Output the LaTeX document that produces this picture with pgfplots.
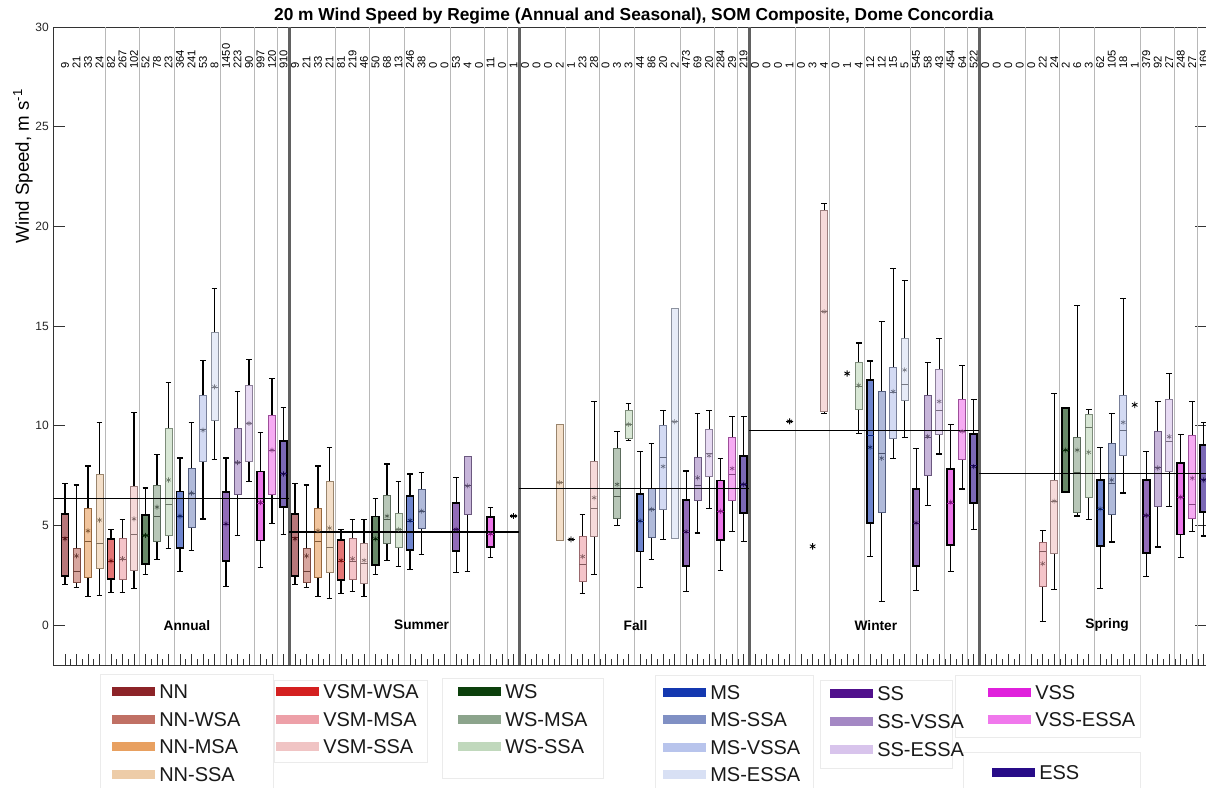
\documentclass[border=0pt]{standalone}
\usepackage{fontspec}
\setmainfont{Liberation Sans}
\usepackage{pgfplots}
\pgfplotsset{compat=1.18}
\usepgfplotslibrary{statistics}

\definecolor{cNN}{RGB}{140,35,40}
\definecolor{cNNWSA}{RGB}{192,112,100}
\definecolor{cNNMSA}{RGB}{232,160,96}
\definecolor{cNNSSA}{RGB}{237,204,168}
\definecolor{cVSMWSA}{RGB}{212,32,32}
\definecolor{cVSMMSA}{RGB}{237,160,168}
\definecolor{cVSMSSA}{RGB}{240,196,196}
\definecolor{cWS}{RGB}{12,64,12}
\definecolor{cWSMSA}{RGB}{140,164,140}
\definecolor{cWSSSA}{RGB}{192,216,188}
\definecolor{cMS}{RGB}{20,56,176}
\definecolor{cMSSSA}{RGB}{128,144,196}
\definecolor{cMSVSSA}{RGB}{184,196,236}
\definecolor{cMSESSA}{RGB}{216,224,244}
\definecolor{cSS}{RGB}{80,16,140}
\definecolor{cSSVSSA}{RGB}{164,136,196}
\definecolor{cSSESSA}{RGB}{216,196,236}
\definecolor{cVSS}{RGB}{224,32,220}
\definecolor{cVSSESSA}{RGB}{240,120,236}
\definecolor{cESS}{RGB}{40,12,136}

\pgfplotsset{
  pure/.style={draw=black, line width=1.3pt, fill=#1!62!white,
    boxplot/every whisker/.style={draw=black, line width=0.85pt},
    boxplot/every median/.style={draw=#1!75!black, line width=0.5pt}},
  mixed/.style={draw=#1!65!black, line width=0.5pt, fill=#1!62!white,
    boxplot/every whisker/.style={draw=black, line width=0.85pt},
    boxplot/every median/.style={draw=#1!55!black, line width=0.5pt}},
  single/.style={draw=black, line width=1pt, fill=none,
    boxplot/every whisker/.style={draw=black, line width=0.85pt},
    boxplot/every median/.style={draw=black, line width=1pt}},
}

% position, lower whisker, q1, median, q3, upper whisker, mean, box type, colour
\newcommand{\bx}[9]{%
  \addplot[#8=#9, boxplot prepared={draw position=#1, lower whisker=#2, lower quartile=#3, median=#4, upper quartile=#5, upper whisker=#6}] coordinates {};
  \addplot[only marks, mark=asterisk, mark size=1.9pt, line width=0.45pt, color=#9!55!black] coordinates {(#1,#7)};}
% single observation: position, value
\newcommand{\sx}[2]{%
  \addplot[single, boxplot prepared={draw position=#1, lower whisker=#2, lower quartile=#2, median=#2, upper quartile=#2, upper whisker=#2}] coordinates {};
  \addplot[only marks, mark=asterisk, mark size=2.2pt, line width=0.6pt, black] coordinates {(#1,#2)};}
\newcommand{\legitem}[4]{\fill[#3] (#1,#2-4.5) rectangle ++(43,9); \node[anchor=west, inner sep=0pt, font=\fontsize{15}{17}\selectfont, text=black!90] at (#1+47,#2) {#4};}

\begin{document}
\begin{tikzpicture}
\begin{axis}[
  at={(0pt,0pt)}, anchor=south west,
  scale only axis, width=864.375pt, height=478.5pt,
  xmin=0, xmax=100.2, ymin=-2, ymax=30,
  boxplot/draw direction=y,
  boxplot/box extend=0.6,
  boxplot/whisker extend=0.5,
  xtick={1,...,100}, xticklabels={},
  minor x tick num=1,
  xtick pos=left, ytick pos=both,
  ytick={0,5,10,15,20,25,30},
  tick align=inside,
  major tick length=8.6pt, minor tick length=4.3pt,
  tick style={black!80, line width=0.5pt},
  axis line style={black!80, line width=0.6pt},
  yticklabel style={font=\fontsize{9}{10}\selectfont, text=black!85},
  /pgf/number format/assume math mode=true,
  major grid style={black!28, line width=0.8pt},
  extra x ticks={4.5,7.5,10.5,14.5,17.5,19.5,24.5,27.5,30.5,34.5,37.5,39.5,44.5,47.5,50.5,54.5,57.5,59.5,64.5,67.5,70.5,74.5,77.5,79.5,84.5,87.5,90.5,94.5,97.5,99.5},
  extra x tick labels={},
  extra x tick style={grid=major, major tick length=0pt},
  ylabel={Wind Speed, m s\textsuperscript{-1}},
  every axis y label/.style={at={(-0.0265,0.782)}, rotate=90, anchor=center, font=\fontsize{14}{16}\selectfont},
  title={20 m Wind Speed by Regime (Annual and Seasonal), SOM Composite, Dome Concordia},
  every axis title/.style={at={(0.5035,1)}, anchor=base, yshift=4.7pt, font=\bfseries\fontsize{13}{15}\selectfont},
]
% season separators
\addplot[line width=2.3pt, black!62] coordinates {(20.5,-2) (20.5,30)};
\addplot[line width=2.3pt, black!62] coordinates {(40.5,-2) (40.5,30)};
\addplot[line width=2.3pt, black!62] coordinates {(60.5,-2) (60.5,30)};
\addplot[line width=2.3pt, black!62] coordinates {(80.5,-2) (80.5,30)};

% ---------- Annual ----------
\bx{1}{2.03}{2.47}{4.40}{5.58}{7.12}{4.33}{pure}{cNN}
\bx{2}{1.87}{2.17}{2.70}{3.83}{7.03}{3.47}{mixed}{cNNWSA}
\bx{3}{1.45}{2.42}{4.22}{5.85}{7.98}{4.73}{mixed}{cNNMSA}
\bx{4}{1.50}{2.83}{4.12}{7.58}{10.17}{5.27}{mixed}{cNNSSA}
\bx{5}{1.63}{2.32}{3.20}{4.32}{4.80}{3.22}{pure}{cVSMWSA}
\bx{6}{1.63}{2.28}{3.30}{4.33}{5.28}{3.33}{mixed}{cVSMMSA}
\bx{7}{1.82}{2.77}{4.57}{6.98}{10.68}{5.33}{mixed}{cVSMSSA}
\bx{8}{2.53}{3.07}{4.50}{5.53}{6.88}{4.50}{pure}{cWS}
\bx{9}{3.27}{4.20}{5.47}{7.02}{8.55}{5.92}{mixed}{cWSMSA}
\bx{10}{3.83}{4.50}{6.08}{9.88}{12.15}{7.28}{mixed}{cWSSSA}
\bx{11}{2.67}{3.87}{5.45}{6.70}{8.38}{5.47}{pure}{cMS}
\bx{12}{3.75}{4.92}{6.60}{7.85}{10.17}{6.62}{mixed}{cMSSSA}
\bx{13}{5.32}{8.22}{9.80}{11.53}{13.28}{9.78}{mixed}{cMSVSSA}
\bx{14}{8.30}{10.25}{11.95}{14.70}{16.90}{11.95}{mixed}{cMSESSA}
\bx{15}{1.95}{3.20}{5.05}{6.68}{8.38}{5.08}{pure}{cSS}
\bx{16}{4.48}{6.57}{8.15}{9.88}{11.72}{8.15}{mixed}{cSSVSSA}
\bx{17}{7.20}{8.23}{10.10}{12.03}{13.32}{10.12}{mixed}{cSSESSA}
\bx{18}{2.90}{4.25}{6.10}{7.70}{9.65}{6.15}{pure}{cVSS}
\bx{19}{5.10}{6.58}{8.75}{10.53}{12.38}{8.78}{mixed}{cVSSESSA}
\bx{20}{4.55}{5.92}{7.60}{9.22}{10.93}{7.58}{pure}{cESS}

% ---------- Summer ----------
\bx{21}{2.03}{2.47}{4.40}{5.58}{7.12}{4.33}{pure}{cNN}
\bx{22}{1.87}{2.17}{2.70}{3.83}{7.03}{3.47}{mixed}{cNNWSA}
\bx{23}{1.45}{2.42}{4.22}{5.85}{7.98}{4.73}{mixed}{cNNMSA}
\bx{24}{1.33}{2.63}{3.92}{7.20}{8.92}{4.87}{mixed}{cNNSSA}
\bx{25}{1.60}{2.27}{3.20}{4.28}{4.80}{3.25}{pure}{cVSMWSA}
\bx{26}{1.70}{2.28}{3.20}{4.37}{5.28}{3.33}{mixed}{cVSMMSA}
\bx{27}{1.45}{2.08}{3.12}{4.12}{5.28}{3.25}{mixed}{cVSMSSA}
\bx{28}{2.53}{3.03}{4.30}{5.45}{6.37}{4.33}{pure}{cWS}
\bx{29}{3.22}{4.12}{5.30}{6.50}{8.08}{5.47}{mixed}{cWSMSA}
\bx{30}{2.92}{3.92}{4.80}{5.63}{7.20}{4.80}{mixed}{cWSSSA}
\bx{31}{2.80}{3.78}{5.20}{6.48}{7.58}{5.25}{pure}{cMS}
\bx{32}{3.53}{4.85}{5.70}{6.82}{7.67}{5.72}{mixed}{cMSSSA}
\bx{35}{2.62}{3.70}{4.80}{6.13}{7.42}{4.80}{pure}{cSS}
\bx{36}{2.70}{5.55}{7.00}{8.45}{8.45}{6.98}{mixed}{cSSVSSA}
\bx{38}{3.37}{3.90}{4.55}{5.43}{5.92}{4.58}{pure}{cVSS}
\sx{40}{5.47}

% ---------- Fall ----------
\bx{44}{4.27}{4.27}{7.15}{10.07}{10.07}{7.15}{mixed}{cNNSSA}
\sx{45}{4.30}
\bx{46}{1.58}{2.20}{3.06}{4.46}{5.56}{3.44}{mixed}{cVSMMSA}
\bx{47}{2.54}{4.46}{5.85}{8.21}{11.20}{6.39}{mixed}{cVSMSSA}
\bx{49}{4.98}{5.38}{6.48}{8.88}{9.71}{7.06}{mixed}{cWSMSA}
\bx{50}{9.27}{9.37}{10.07}{10.79}{11.13}{10.07}{mixed}{cWSSSA}
\bx{51}{1.90}{3.69}{5.20}{6.58}{8.69}{5.23}{pure}{cMS}
\bx{52}{3.31}{4.40}{5.80}{6.87}{9.13}{5.81}{mixed}{cMSSSA}
\bx{53}{4.31}{5.81}{8.44}{10.04}{10.75}{7.96}{mixed}{cMSVSSA}
\bx{54}{4.37}{4.37}{10.20}{15.90}{15.90}{10.20}{mixed}{cMSESSA}
\bx{55}{1.68}{2.98}{4.65}{6.29}{7.73}{4.69}{pure}{cSS}
\bx{56}{4.62}{6.25}{7.00}{8.40}{10.62}{7.39}{mixed}{cSSVSSA}
\bx{57}{5.87}{7.44}{8.60}{9.81}{10.75}{8.50}{mixed}{cSSESSA}
\bx{58}{2.73}{4.27}{5.70}{7.25}{8.37}{5.71}{pure}{cVSS}
\bx{59}{4.69}{6.25}{7.55}{9.41}{10.46}{7.86}{mixed}{cVSSESSA}
\bx{60}{4.21}{5.62}{7.05}{8.50}{10.48}{7.06}{pure}{cESS}

% ---------- Winter ----------
\sx{64}{10.22}
\bx{67}{10.62}{10.70}{15.72}{20.78}{21.13}{15.72}{mixed}{cVSMSSA}
\bx{70}{9.63}{10.83}{12.00}{13.20}{14.15}{12.03}{mixed}{cWSSSA}
\bx{71}{3.45}{5.13}{9.50}{12.28}{13.25}{8.92}{pure}{cMS}
\bx{72}{1.20}{5.67}{8.62}{11.72}{15.25}{8.37}{mixed}{cMSSSA}
\bx{73}{8.37}{9.37}{11.70}{12.95}{17.87}{11.72}{mixed}{cMSVSSA}
\bx{74}{9.42}{11.25}{12.08}{14.40}{17.28}{12.80}{mixed}{cMSESSA}
\bx{75}{1.75}{2.95}{5.10}{6.83}{8.88}{5.13}{pure}{cSS}
\bx{76}{6.00}{7.50}{9.40}{11.55}{13.17}{9.47}{mixed}{cSSVSSA}
\bx{77}{8.58}{9.58}{10.78}{12.83}{14.37}{11.22}{mixed}{cSSESSA}
\bx{78}{2.67}{4.03}{6.10}{7.83}{10.08}{6.17}{pure}{cVSS}
\bx{79}{6.83}{8.33}{9.70}{11.33}{13.03}{9.72}{mixed}{cVSSESSA}
\bx{80}{4.78}{6.13}{8.00}{9.58}{11.33}{7.95}{pure}{cESS}

% ---------- Spring ----------
\bx{86}{0.17}{1.95}{3.72}{4.13}{4.75}{3.08}{mixed}{cVSMMSA}
\bx{87}{1.78}{3.58}{6.20}{7.28}{11.62}{6.22}{mixed}{cVSMSSA}
\bx{88}{6.67}{6.67}{8.78}{10.88}{10.88}{8.78}{pure}{cWS}
\bx{89}{5.47}{5.67}{7.67}{9.42}{16.05}{8.78}{mixed}{cWSMSA}
\bx{90}{5.28}{6.42}{9.92}{10.58}{10.83}{8.67}{mixed}{cWSSSA}
\bx{91}{1.83}{3.97}{5.80}{7.28}{8.92}{5.83}{pure}{cMS}
\bx{92}{4.17}{5.55}{7.10}{9.12}{10.62}{7.28}{mixed}{cMSSSA}
\bx{93}{6.63}{8.50}{9.75}{11.53}{16.38}{10.17}{mixed}{cMSVSSA}
\bx{95}{2.42}{3.63}{5.50}{7.28}{8.70}{5.50}{pure}{cSS}
\bx{96}{3.92}{5.97}{7.90}{9.72}{11.20}{7.88}{mixed}{cSSVSSA}
\bx{97}{5.95}{7.70}{9.20}{11.30}{12.63}{9.45}{mixed}{cSSESSA}
\bx{98}{3.37}{4.55}{6.40}{8.13}{9.58}{6.42}{pure}{cVSS}
\bx{99}{4.70}{5.38}{6.08}{9.50}{11.20}{7.37}{mixed}{cVSSESSA}
\bx{100}{4.47}{5.67}{7.30}{9.03}{10.17}{7.28}{pure}{cESS}

% observations shown only as asterisks
\addplot[only marks, mark=asterisk, mark size=2.4pt, black, line width=0.6pt] coordinates {(66,3.95) (69,12.62) (94,11.05)};

% season mean lines
\addplot[black, line width=0.9pt] coordinates {(0,6.37) (20.5,6.37)};
\addplot[black, line width=0.9pt] coordinates {(20.5,4.67) (40.5,4.67)};
\addplot[black, line width=0.9pt] coordinates {(40.5,6.85) (60.5,6.85)};
\addplot[black, line width=0.9pt] coordinates {(60.5,9.75) (80.5,9.75)};
\addplot[black, line width=0.9pt] coordinates {(80.5,7.62) (100.2,7.62)};

% sample counts
\addplot[draw=none, mark=none, nodes near coords, point meta=explicit symbolic,
  nodes near coords align={anchor=west},
  every node near coord/.append style={rotate=90, anchor=west, inner sep=0pt, text=black, font=\fontsize{8.4}{9}\selectfont}]
coordinates {
(1,27.9)[9] (2,27.9)[21] (3,27.9)[33] (4,27.9)[24] (5,27.9)[82] (6,27.9)[267] (7,27.9)[102] (8,27.9)[52] (9,27.9)[78] (10,27.9)[23]
(11,27.9)[364] (12,27.9)[241] (13,27.9)[53] (14,27.9)[8] (15,27.9)[1450] (16,27.9)[223] (17,27.9)[90] (18,27.9)[997] (19,27.9)[120] (20,27.9)[910]
(21,27.9)[9] (22,27.9)[21] (23,27.9)[33] (24,27.9)[21] (25,27.9)[81] (26,27.9)[219] (27,27.9)[46] (28,27.9)[50] (29,27.9)[68] (30,27.9)[13]
(31,27.9)[246] (32,27.9)[38] (33,27.9)[0] (34,27.9)[0] (35,27.9)[53] (36,27.9)[4] (37,27.9)[0] (38,27.9)[11] (39,27.9)[0] (40,27.9)[1]
(41,27.9)[0] (42,27.9)[0] (43,27.9)[0] (44,27.9)[2] (45,27.9)[1] (46,27.9)[23] (47,27.9)[28] (48,27.9)[0] (49,27.9)[3] (50,27.9)[3]
(51,27.9)[44] (52,27.9)[86] (53,27.9)[20] (54,27.9)[2] (55,27.9)[473] (56,27.9)[69] (57,27.9)[20] (58,27.9)[284] (59,27.9)[29] (60,27.9)[219]
(61,27.9)[0] (62,27.9)[0] (63,27.9)[0] (64,27.9)[1] (65,27.9)[0] (66,27.9)[3] (67,27.9)[4] (68,27.9)[0] (69,27.9)[1] (70,27.9)[4]
(71,27.9)[12] (72,27.9)[12] (73,27.9)[15] (74,27.9)[5] (75,27.9)[545] (76,27.9)[58] (77,27.9)[43] (78,27.9)[454] (79,27.9)[64] (80,27.9)[522]
(81,27.9)[0] (82,27.9)[0] (83,27.9)[0] (84,27.9)[0] (85,27.9)[0] (86,27.9)[22] (87,27.9)[24] (88,27.9)[2] (89,27.9)[6] (90,27.9)[3]
(91,27.9)[62] (92,27.9)[105] (93,27.9)[18] (94,27.9)[1] (95,27.9)[379] (96,27.9)[92] (97,27.9)[27] (98,27.9)[248] (99,27.9)[27] (100,27.9)[169]
};

% season names
\node[font=\bfseries\fontsize{10.3}{12}\selectfont] at (axis cs:11.6,0) {Annual};
\node[font=\bfseries\fontsize{10.3}{12}\selectfont] at (axis cs:32.0,0) {Summer};
\node[font=\bfseries\fontsize{10.3}{12}\selectfont] at (axis cs:50.6,0) {Fall};
\node[font=\bfseries\fontsize{10.3}{12}\selectfont] at (axis cs:71.5,0) {Winter};
\node[font=\bfseries\fontsize{10.3}{12}\selectfont] at (axis cs:91.6,0) {Spring};
\end{axis}

% legend (coordinates in reference pixels)
\begin{scope}[x=0.75pt, y=-0.75pt, shift={(-53.5,-665)}]
\draw[black!8, line width=0.6pt] (100,674) rectangle (273,792);
\draw[black!8, line width=0.6pt] (274,680) rectangle (427,762);
\draw[black!8, line width=0.6pt] (442,678) rectangle (603,778);
\draw[black!8, line width=0.6pt] (655,675) rectangle (813,792);
\draw[black!8, line width=0.6pt] (820,680) rectangle (952,768);
\draw[black!8, line width=0.6pt] (955,675) rectangle (1140,737);
\draw[black!8, line width=0.6pt] (963,752) rectangle (1140,792);
\legitem{112}{692}{cNN}{NN}
\legitem{112}{720}{cNNWSA}{NN-WSA}
\legitem{112}{747}{cNNMSA}{NN-MSA}
\legitem{112}{775}{cNNSSA}{NN-SSA}
\legitem{276}{692}{cVSMWSA}{VSM-WSA}
\legitem{276}{720}{cVSMMSA}{VSM-MSA}
\legitem{276}{747}{cVSMSSA}{VSM-SSA}
\legitem{458}{692}{cWS}{WS}
\legitem{458}{720}{cWSMSA}{WS-MSA}
\legitem{458}{747}{cWSSSA}{WS-SSA}
\legitem{663}{693}{cMS}{MS}
\legitem{663}{720}{cMSSSA}{MS-SSA}
\legitem{663}{748}{cMSVSSA}{MS-VSSA}
\legitem{663}{775}{cMSESSA}{MS-ESSA}
\legitem{830}{694}{cSS}{SS}
\legitem{830}{722}{cSSVSSA}{SS-VSSA}
\legitem{830}{750}{cSSESSA}{SS-ESSA}
\legitem{988}{693}{cVSS}{VSS}
\legitem{988}{720}{cVSSESSA}{VSS-ESSA}
\legitem{992}{773}{cESS}{ESS}
\end{scope}

\pgfresetboundingbox
\path[use as bounding box] (-40.125pt,-92.25pt) rectangle (864.375pt,498.75pt);
\end{tikzpicture}
\end{document}
